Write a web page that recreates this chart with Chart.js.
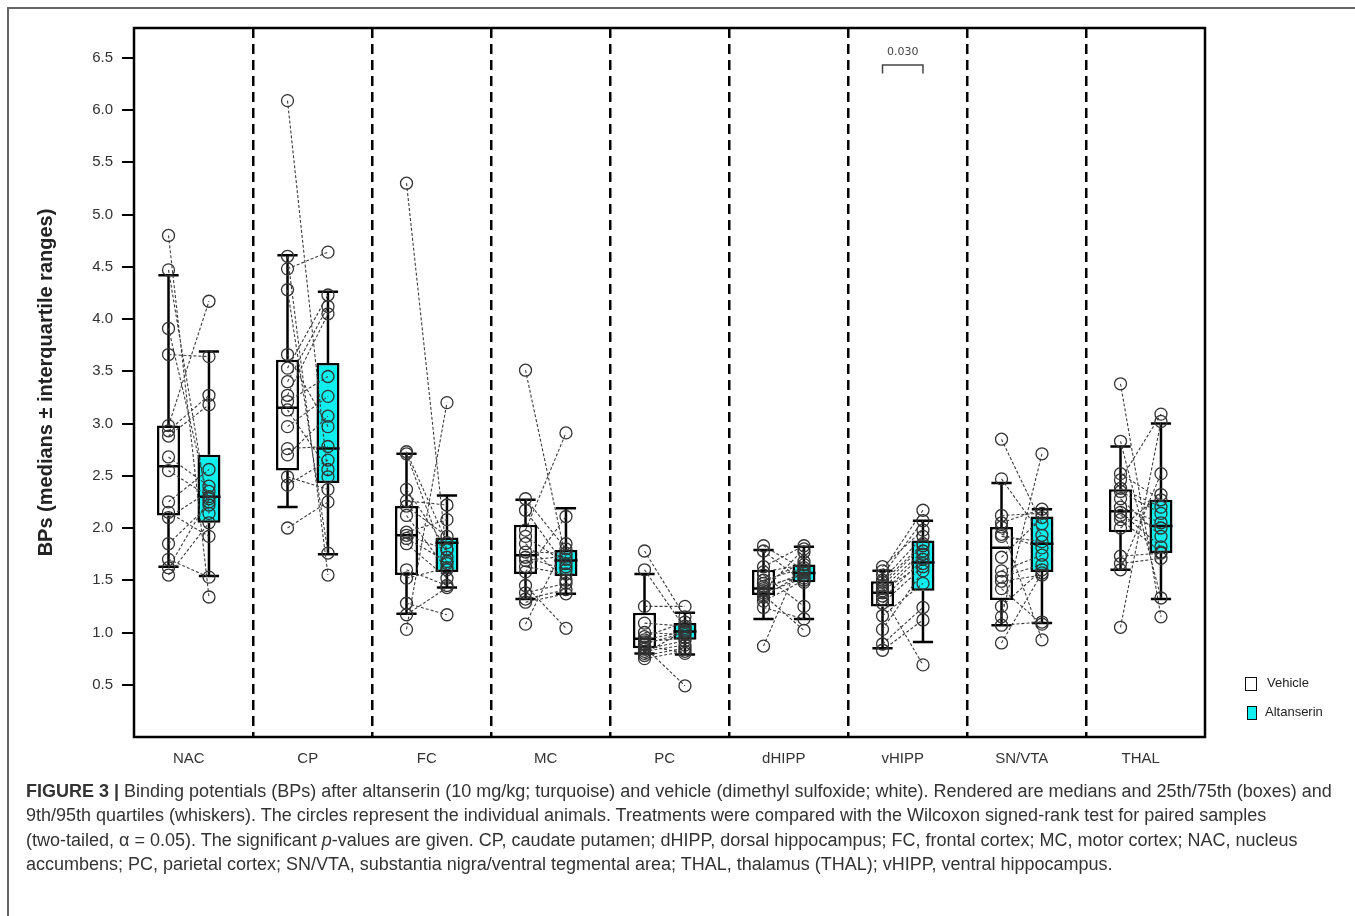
<!DOCTYPE html>
<html lang="en">
<head>
    <meta charset="UTF-8">
    <title>Figure 3 - Binding potentials</title>
    <script src="https://cdn.jsdelivr.net/npm/chart.js@4.4.0/dist/chart.umd.min.js"></script>
    <style>
        body { margin: 0; background: #fff; font-family: "Liberation Sans", Arial, sans-serif; }
        .figure { position: relative; width: 1355px; height: 916px; overflow: hidden; }
        .frame {
            position: absolute; left: 7px; top: 7px; width: 1400px; height: 1000px;
            border-left: 2px solid #666; border-top: 2px solid #666;
        }
        .chart-box { position: absolute; left: 0; top: 0; width: 1355px; height: 780px; }
        .legend { position: absolute; left: 1245px; top: 674px; font-family: "Liberation Sans Narrow", "Liberation Sans", Arial, sans-serif; font-size: 13px; color: #222; }
        .legend div { position: relative; height: 29px; }
        .legend span.sw { position: absolute; top: 3px; width: 10px; height: 12px; border: 1.5px solid #111; }
        .legend span.txt { position: absolute; left: 22px; top: 1px; }
        .caption {
            position: absolute; left: 26px; top: 779px;
            font-size: 18px; line-height: 24.4px; color: #333; white-space: nowrap;
        }
    </style>
</head>
<body>
<div class="figure">
    <div class="frame"></div>
    <div class="chart-box"><canvas id="bpChart"></canvas></div>
    <div class="legend">
        <div><span class="sw" style="background:#fff"></span><span class="txt">Vehicle</span></div>
        <div><span class="sw" style="background:#10eeee; width:8px; left:2px"></span><span class="txt" style="left:20px">Altanserin</span></div>
    </div>
    <div class="caption">
        <b>FIGURE 3 |</b> Binding potentials (BPs) after altanserin (10 mg/kg; turquoise) and vehicle (dimethyl sulfoxide; white). Rendered are medians and 25th/75th (boxes) and<br>
        9th/95th quartiles (whiskers). The circles represent the individual animals. Treatments were compared with the Wilcoxon signed-rank test for paired samples<br>
        (two-tailed, α = 0.05). The significant <i>p</i>-values are given. CP, caudate putamen; dHIPP, dorsal hippocampus; FC, frontal cortex; MC, motor cortex; NAC, nucleus<br>
        accumbens; PC, parietal cortex; SN/VTA, substantia nigra/ventral tegmental area; THAL, thalamus (THAL); vHIPP, ventral hippocampus.
    </div>
</div>

<script>
    // regions on the x axis
    const categories = ['NAC', 'CP', 'FC', 'MC', 'PC', 'dHIPP', 'vHIPP', 'SN/VTA', 'THAL'];
    const yTicks = [0.5, 1.0, 1.5, 2.0, 2.5, 3.0, 3.5, 4.0, 4.5, 5.0, 5.5, 6.0, 6.5];

    // box stats per region: [low whisker, 25th, median, 75th, high whisker]
    const vehicleStats = [
        [1.63, 2.12, 2.59, 2.98, 4.42],
        [2.20, 2.55, 3.15, 3.61, 4.61],
        [1.18, 1.55, 1.93, 2.21, 2.71],
        [1.32, 1.56, 1.74, 2.03, 2.27],
        [0.80, 0.85, 0.94, 1.19, 1.56],
        [1.13, 1.36, 1.42, 1.60, 1.79],
        [0.85, 1.25, 1.38, 1.49, 1.59],
        [1.07, 1.31, 1.81, 2.01, 2.43],
        [1.60, 1.96, 2.16, 2.37, 2.78]
    ];
    const altanserinStats = [
        [1.54, 2.05, 2.30, 2.70, 3.69],
        [1.75, 2.43, 2.76, 3.58, 4.26],
        [1.43, 1.58, 1.86, 1.91, 2.31],
        [1.37, 1.54, 1.69, 1.79, 2.19],
        [0.79, 0.93, 1.01, 1.09, 1.19],
        [1.13, 1.48, 1.57, 1.65, 1.82],
        [0.91, 1.40, 1.67, 1.88, 2.07],
        [1.09, 1.58, 1.85, 2.11, 2.18],
        [1.32, 1.76, 2.02, 2.27, 3.00]
    ];

    // individual animals, same order in both lists (paired)
    const vehiclePoints = [
        [4.80, 4.47, 3.91, 3.66, 2.98, 2.93, 2.88, 2.68, 2.55, 2.25, 2.15, 2.10, 1.85, 1.70, 1.62, 1.55],
        [6.09, 4.60, 4.48, 4.28, 3.66, 3.53, 3.40, 3.27, 3.21, 3.13, 2.97, 2.76, 2.70, 2.49, 2.41, 2.00],
        [5.30, 2.73, 2.71, 2.37, 2.26, 2.21, 2.12, 1.96, 1.93, 1.90, 1.85, 1.60, 1.52, 1.28, 1.17, 1.03],
        [3.51, 2.28, 2.17, 1.98, 1.92, 1.85, 1.77, 1.72, 1.69, 1.63, 1.58, 1.45, 1.38, 1.32, 1.29, 1.08],
        [1.78, 1.60, 1.25, 1.09, 1.00, 0.96, 0.93, 0.91, 0.89, 0.86, 0.84, 0.82, 0.80, 0.78, 0.75, 0.88],
        [1.83, 1.78, 1.63, 1.58, 1.55, 1.50, 1.47, 1.44, 1.42, 1.40, 1.38, 1.36, 1.34, 1.30, 1.24, 0.87],
        [1.63, 1.59, 1.55, 1.50, 1.48, 1.45, 1.42, 1.40, 1.38, 1.35, 1.32, 1.28, 1.16, 1.03, 0.89, 0.83],
        [2.85, 2.47, 2.12, 2.05, 2.01, 1.94, 1.92, 1.72, 1.59, 1.53, 1.49, 1.42, 1.25, 1.15, 1.07, 0.90],
        [3.38, 2.83, 2.52, 2.46, 2.38, 2.35, 2.28, 2.20, 2.15, 2.12, 2.08, 2.00, 1.73, 1.66, 1.60, 1.05]
    ];
    const altanserinPoints = [
        [1.34, 2.14, 2.25, 3.64, 4.17, 3.27, 3.18, 2.40, 2.30, 2.56, 1.92, 2.35, 2.22, 1.53, 2.28, 2.05],
        [2.49, 1.55, 4.64, 1.76, 2.97, 4.23, 4.12, 4.05, 3.45, 2.56, 3.26, 2.78, 3.07, 2.37, 2.65, 2.25],
        [1.72, 1.86, 1.66, 1.80, 2.22, 1.92, 1.60, 2.08, 1.79, 1.68, 1.52, 1.45, 1.62, 1.17, 1.43, 3.20],
        [1.70, 1.80, 1.63, 2.91, 1.66, 1.50, 1.76, 1.60, 1.73, 1.56, 2.11, 1.04, 1.47, 1.41, 1.37, 1.85],
        [1.15, 1.04, 1.25, 1.06, 0.98, 1.10, 1.01, 0.95, 1.00, 0.49, 0.92, 0.88, 1.02, 0.85, 0.82, 0.80],
        [1.60, 1.48, 1.83, 1.65, 1.25, 1.62, 1.68, 1.55, 1.57, 1.80, 1.52, 1.02, 1.58, 1.50, 1.13, 1.77],
        [1.98, 2.17, 2.07, 1.92, 1.85, 1.83, 1.78, 1.66, 1.75, 0.69, 1.70, 1.63, 1.47, 1.59, 1.24, 1.12],
        [2.04, 1.93, 2.14, 2.18, 0.93, 1.81, 1.87, 2.10, 1.74, 1.65, 1.55, 1.08, 1.60, 2.71, 1.10, 1.57],
        [1.15, 1.33, 2.27, 3.09, 2.20, 2.14, 1.92, 2.05, 1.82, 2.00, 1.77, 2.32, 1.76, 1.71, 2.52, 3.02]
    ];

    // significant comparison (Wilcoxon)
    const pValueGroups = [6];
    const pValueLabels = ['0.030'];

    // layout inside each region (x units, one region = 1)
    const VEH = 0.29, ALT = 0.63, CAP = 0.085, HALF = 0.097;
    const CYAN = '#10eeee';

    function whiskerData(stats, off) {
        const out = [];
        stats.forEach((s, i) => {
            const x = i + off;
            out.push({x: x, y: s[0]}, {x: x, y: s[1]}, {x: x, y: null});
            out.push({x: x, y: s[3]}, {x: x, y: s[4]}, {x: x, y: null});
            out.push({x: x - CAP, y: s[0]}, {x: x + CAP, y: s[0]}, {x: x, y: null});
            out.push({x: x - CAP, y: s[4]}, {x: x + CAP, y: s[4]}, {x: x, y: null});
        });
        return out;
    }

    function medianData(stats, off) {
        const out = [];
        stats.forEach((s, i) => {
            out.push({x: i + off - HALF, y: s[2]}, {x: i + off + HALF, y: s[2]}, {x: i + off, y: null});
        });
        return out;
    }

    const pairData = [];
    vehiclePoints.forEach((vals, i) => {
        vals.forEach((v, k) => {
            pairData.push({x: i + VEH, y: v}, {x: i + ALT, y: altanserinPoints[i][k]}, {x: i + ALT, y: null});
        });
    });

    const bracketData = [];
    pValueGroups.forEach(g => {
        bracketData.push({x: g + VEH, y: 6.35}, {x: g + VEH, y: 6.43}, {x: g + ALT, y: 6.43}, {x: g + ALT, y: 6.35}, {x: g + ALT, y: null});
    });

    const framePlugin = {
        id: 'frame',
        afterDraw(chart) {
            const {ctx, chartArea: a, scales} = chart;
            ctx.save();
            ctx.strokeStyle = '#000';
            ctx.lineWidth = 2.5;
            ctx.strokeRect(a.left, a.top, a.right - a.left, a.bottom - a.top);
            ctx.fillStyle = '#444';
            ctx.font = '11px "DejaVu Sans", sans-serif';
            ctx.textAlign = 'center';
            ctx.textBaseline = 'middle';
            pValueGroups.forEach((g, j) => {
                const x = scales.x.getPixelForValue(g + (VEH + ALT) / 2);
                const y = scales.y.getPixelForValue(6.55);
                ctx.fillText(pValueLabels[j], x, y);
            });
            ctx.restore();
        }
    };

    const ctx = document.getElementById('bpChart').getContext('2d');
    new Chart(ctx, {
        type: 'scatter',
        data: {
            datasets: [
                {
                    type: 'bar', label: 'Vehicle',
                    data: vehicleStats.map((s, i) => ({x: i + VEH, y: [s[1], s[3]]})),
                    backgroundColor: '#ffffff', borderColor: '#000', borderWidth: 2.5,
                    borderSkipped: false, grouped: false, maxBarThickness: 23, order: 5
                },
                {
                    type: 'bar', label: 'Altanserin',
                    data: altanserinStats.map((s, i) => ({x: i + ALT, y: [s[1], s[3]]})),
                    backgroundColor: CYAN, borderColor: '#000', borderWidth: 2.5,
                    borderSkipped: false, grouped: false, maxBarThickness: 23, order: 5
                },
                {
                    type: 'line', label: 'whiskers',
                    data: whiskerData(vehicleStats, VEH).concat(whiskerData(altanserinStats, ALT)),
                    borderColor: '#000', borderWidth: 2.5, pointRadius: 0, spanGaps: false, order: 4
                },
                {
                    type: 'line', label: 'medians',
                    data: medianData(vehicleStats, VEH).concat(medianData(altanserinStats, ALT)),
                    borderColor: '#000', borderWidth: 2.5, pointRadius: 0, spanGaps: false, order: 3
                },
                {
                    type: 'line', label: 'animals',
                    data: pairData,
                    borderColor: '#3c3c3c', borderWidth: 1.1, borderDash: [3, 2], spanGaps: false,
                    pointRadius: 6, pointBackgroundColor: 'rgba(0,0,0,0)',
                    pointBorderColor: '#333', pointBorderWidth: 1.3, order: 1
                },
                {
                    type: 'line', label: 'bracket',
                    data: bracketData,
                    borderColor: '#444', borderWidth: 1.5, pointRadius: 0, spanGaps: false, order: 1
                }
            ]
        },
        options: {
            responsive: true,
            maintainAspectRatio: false,
            animation: false,
            events: [],
            layout: { padding: { left: 0, top: 28, right: 150, bottom: 0 } },
            plugins: { legend: { display: false }, tooltip: { enabled: false } },
            scales: {
                x: {
                    type: 'linear', min: 0, max: 9, offset: false,
                    afterFit: s => { s.height = 43; },
                    afterBuildTicks: s => { s.ticks = categories.map((c, i) => ({value: i + 0.46})); },
                    grid: { display: false, drawTicks: false },
                    border: { display: false },
                    ticks: {
                        padding: 13, color: '#333', maxRotation: 0,
                        font: { family: '"Liberation Sans", Arial, sans-serif', size: 15 },
                        callback: (v, i) => categories[i]
                    }
                },
                x2: {
                    type: 'linear', position: 'top', min: 0, max: 9, offset: false,
                    afterFit: s => { s.height = 0; },
                    afterBuildTicks: s => { s.ticks = [1, 2, 3, 4, 5, 6, 7, 8].map(v => ({value: v})); },
                    grid: { display: true, drawOnChartArea: true, drawTicks: false, color: '#000', lineWidth: 2.5 },
                    border: { display: false, dash: [10, 6] },
                    ticks: { display: false }
                },
                y: {
                    type: 'linear', min: 0, max: 6.785,
                    afterFit: s => { s.width = 134; },
                    afterBuildTicks: s => { s.ticks = yTicks.map(v => ({value: v})); },
                    grid: { drawOnChartArea: false, drawTicks: true, tickLength: 12, color: '#000', lineWidth: 2 },
                    border: { display: false },
                    ticks: {
                        padding: 9, color: '#333',
                        font: { family: '"Liberation Sans", Arial, sans-serif', size: 15 },
                        callback: v => Number(v).toFixed(1)
                    },
                    title: {
                        display: true,
                        text: 'BPs (medians ± interquartile ranges)',
                        color: '#222',
                        padding: { top: 34, bottom: 0 },
                        font: { family: '"Liberation Sans Narrow", "Liberation Sans", Arial, sans-serif', size: 20, weight: 'bold' }
                    }
                }
            }
        },
        plugins: [framePlugin]
    });
</script>
</body>
</html>
